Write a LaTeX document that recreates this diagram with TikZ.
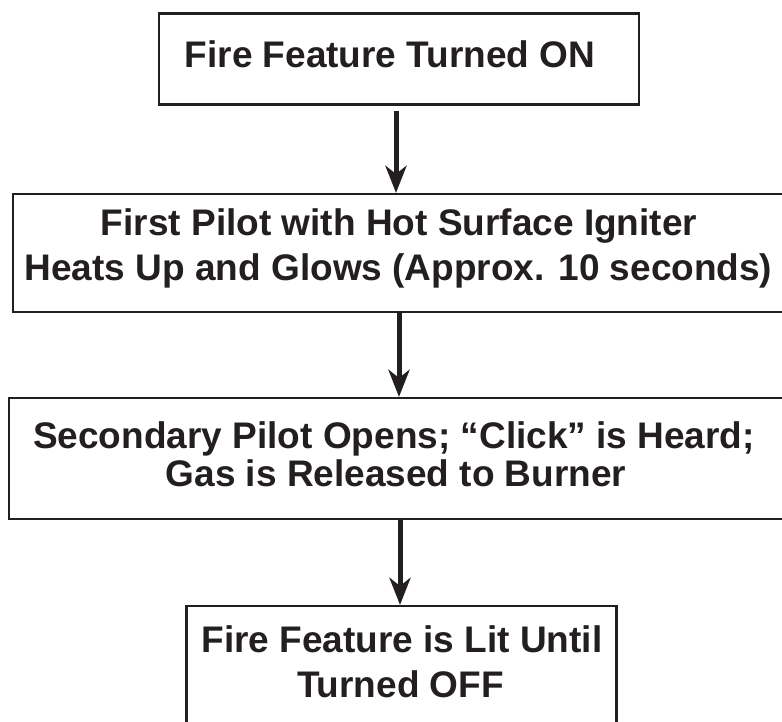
\documentclass[tikz,border=0pt]{standalone}
\usepackage{fontspec}
\setmainfont{Liberation Sans}
\usetikzlibrary{arrows.meta}
\definecolor{ink}{RGB}{35,31,32}
\tikzset{
  frame/.style={draw=ink, line width=2.2pt, rectangle, inner sep=0pt, fill=none},
  txt/.style={font=\fontsize{37}{44}\selectfont\bfseries, text=ink, inner sep=0pt, anchor=base},
  arr/.style={draw=ink, line width=5pt, -{Stealth[length=27pt, width=21pt, inset=8pt]}}
}
\begin{document}
\begin{tikzpicture}[x=1pt, y=-1pt]
\useasboundingbox (0,0) rectangle (782,721);
\clip (0,0) rectangle (782,721);
\fill[white] (0,0) rectangle (782,721);
% frames
\node[frame, minimum width=480pt, minimum height=91pt] (b1) at (399,59) {};
\node[frame, minimum width=787pt, minimum height=118pt] (b2) at (406.5,253) {};
\node[frame, minimum width=791pt, minimum height=121pt] (b3) at (404.5,458.5) {};
\node[frame, minimum width=430pt, minimum height=134pt] (b4) at (401.5,673) {};
% texts
\node[txt] (t1) at (390,67) {Fire Feature Turned ON};
\node[txt] (t2a) at (399,235) {First Pilot with Hot Surface Igniter};
\node[txt] (t2b) at (398.5,280) {Heats Up and Glows (Approx. 10 seconds)};
\node[txt] (t3a) at (394,448) {Secondary Pilot Opens; “Click” is Heard;};
\node[txt] (t3b) at (396,486) {Gas is Released to Burner};
\node[txt] (t4a) at (402,652) {Fire Feature is Lit Until};
\node[txt] (t4b) at (400.5,697) {Turned OFF};
% arrows
\draw[arr, shorten <=5pt] (b1.south -| 396,0) -- (b2.north -| 396,0);
\draw[arr] (b2.south -| 399,0) -- (b3.north -| 399,0);
\draw[arr] (b3.south -| 400,0) -- (b4.north -| 400,0);
\end{tikzpicture}
\end{document}
